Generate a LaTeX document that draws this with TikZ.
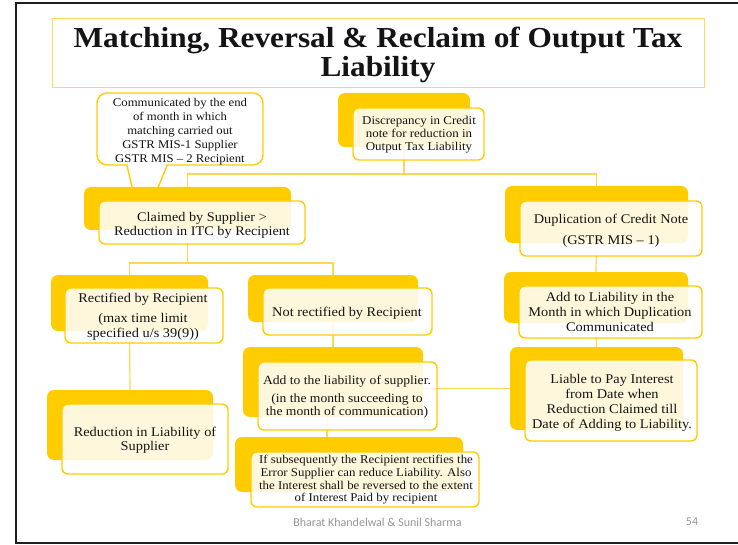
\documentclass[tikz,border=0pt]{standalone}
\usepackage{fontspec}
\setmainfont{Liberation Serif}[FakeStretch=1.08]
\newfontfamily\footfont{Carlito}
\usetikzlibrary{fit}
\definecolor{saYellow}{RGB}{255,204,0}
\definecolor{saLine}{RGB}{255,214,80}
\definecolor{saTitle}{RGB}{255,218,90}
\definecolor{saText}{RGB}{20,20,20}
\definecolor{saFoot}{RGB}{150,150,150}
\pgfdeclarelayer{links}
\pgfsetlayers{links,main}
\begin{document}
\begin{tikzpicture}[x=1pt,y=-1pt,
  backbox/.style={fill=saYellow, draw=none, rounded corners=7pt, inner sep=0pt},
  frontbox/.style={fill=white, fill opacity=0.86, draw=saYellow, draw opacity=1,
                   line width=1.4pt, rounded corners=6pt, inner sep=0pt},
  conn/.style={draw=saLine, line width=1.2pt},
  txt/.style={text=saText, align=center, inner sep=0pt,
              font=\fontsize{13.3}{14.5}\selectfont},
  smalltxt/.style={txt, font=\fontsize{11.9}{12.7}\selectfont},
  calloutline/.style={draw=saYellow, line width=1.4pt},
]
\useasboundingbox (0,0) rectangle (738,545);

% slide frame (open to the right)
\draw[line width=1.6pt, black!88] (760,3) -- (16,3) -- (16,543) -- (760,543);

% title
\node[draw=saTitle, line width=0.9pt, fill=white, inner sep=0pt,
      fit={(52,18)(704,87)}] (titlebox) {};
\node[txt, font=\fontsize{29}{29}\selectfont\bfseries] (title) at (378,55)
  {Matching, Reversal \& Reclaim of Output Tax\\Liability};

% level coordinates for the elbow connectors
\coordinate (lvlA) at (0,174);
\coordinate (lvlB) at (0,263);

% ---------- back boxes ----------
\path
  node[backbox, fit={(338,93)(470,147)}]  (discB)  {}
  node[backbox, fit={(84,187)(291,230)}]  (claimB) {}
  node[backbox, fit={(505,186)(688,243)}] (dupB)   {}
  node[backbox, fit={(51,275)(208,331)}]  (rectB)  {}
  node[backbox, fit={(248,275)(418,322)}] (notB)   {}
  node[backbox, fit={(504,272)(688,323)}] (addlB)  {}
  node[backbox, fit={(47,390)(213,460)}]  (redB)   {}
  node[backbox, fit={(243,347)(423,417)}] (addB)   {}
  node[backbox, fit={(510,347)(683,430)}] (liableB){}
  node[backbox, fit={(235,437)(463,492)}] (ifB)    {};

% ---------- front boxes ----------
\path
  node[frontbox, fit={(353,108)(484,160)}] (discF)  {}
  node[frontbox, fit={(99,201)(305,244)}]  (claimF) {}
  node[frontbox, fit={(520,201)(702,256)}] (dupF)   {}
  node[frontbox, fit={(65,288)(223,343)}]  (rectF)  {}
  node[frontbox, fit={(263,288)(432,335)}] (notF)   {}
  node[frontbox, fit={(519,286)(702,338)}] (addlF)  {}
  node[frontbox, fit={(62,404)(228,474)}]  (redF)   {}
  node[frontbox, fit={(258,362)(437,430)}] (addF)   {}
  node[frontbox, fit={(525,360)(697,441)}] (liableF){}
  node[frontbox, fit={(251,452)(479,507)}] (ifF)    {};

% ---------- connectors and callout, kept behind the boxes ----------
\begin{pgfonlayer}{links}
  \coordinate (j1) at (discB.south |- lvlA);
  \coordinate (j2) at (claimB.south |- lvlB);
  \draw[conn] (discB.south) -- (j1) -| (claimB.north);
  \draw[conn] (j1) -| (dupB.north);
  \draw[conn] (claimB.south) -- (j2) -| (rectB.north);
  \draw[conn] (j2) -| (notB.north);
  \draw[conn] (rectB.south) -- (redB.north);
  \draw[conn] (notB.south) -- (addB.north);
  \draw[conn] ([xshift=-6pt]addB.south) -- ([xshift=-6pt]addB.south |- ifB.north);
  \draw[conn] (dupB.south) -- (addlB.north);
  \draw[conn] (addlB.south) -- (liableB.north);
  \draw[conn] (liableB.west) -- (liableB.west -| addB.east);

  % speech callout with its tail running down behind the first box
  \node[draw=saYellow, line width=1.4pt, fill=white, rounded corners=10pt,
        inner sep=0pt, fit={(97,93)(263,165)}] (calloutbox) {};
  \fill[white] (127.6,163) -- (134.6,195) -- (154.4,195) -- (166.4,163) -- cycle;
  \draw[calloutline] (calloutbox.south -| 127,0) -- (134,195);
  \draw[calloutline] (calloutbox.south -| 167,0) -- (155,195);
\end{pgfonlayer}

% ---------- texts ----------
\node[txt, font=\fontsize{11.8}{14}\selectfont] (callout) at (180,132)
  {Communicated by the end\\of month in which\\matching carried out\\GSTR MIS-1 Supplier\\GSTR MIS -- 2 Recipient};
\node[txt, font=\fontsize{12}{13}\selectfont] (disc) at (419,135)
  {Discrepancy in Credit\\note for reduction in\\Output Tax Liability};
\node[txt, font=\fontsize{13.2}{14}\selectfont] (claim) at (202,225)
  {Claimed by Supplier >\\Reduction in ITC by Recipient};
\node[txt] (dup) at (611,230.5)
  {Duplication of Credit Note\\[6.5pt](GSTR MIS -- 1)};
\node[txt, font=\fontsize{13.3}{15}\selectfont] (rect) at (143,316.5)
  {Rectified by Recipient\\[5pt](max time limit\\specified u/s 39(9))};
\node[txt] (notr) at (347,313)
  {Not rectified by Recipient};
\node[txt, font=\fontsize{13.3}{15}\selectfont] (addl) at (610,312)
  {Add to Liability in the\\Month in which Duplication\\Communicated};
\node[txt, font=\fontsize{13.3}{15}\selectfont] (liable) at (612,402.5)
  {Liable to Pay Interest\\from Date when\\Reduction Claimed till\\Date of Adding to Liability.};
\node[txt] (red) at (145,440)
  {Reduction in Liability of\\Supplier};
\node[txt, font=\fontsize{12.6}{13}\selectfont] (add) at (347,396.5)
  {Add to the liability of supplier.\\[5pt](in the month succeeding to\\the month of communication)};
\node[smalltxt] (ifr) at (366,480)
  {If subsequently the Recipient rectifies the\\Error Supplier can reduce Liability. Also\\the Interest shall be reversed to the extent\\of Interest Paid by recipient};

% footer
\node[text=saFoot, font=\footfont\fontsize{12}{14}\selectfont, inner sep=0pt]
  (author) at (377.5,522) {Bharat Khandelwal \& Sunil Sharma};
\node[text=saFoot, font=\footfont\fontsize{12}{14}\selectfont, inner sep=0pt]
  (pageno) at (692,522) {54};
\end{tikzpicture}
\end{document}
